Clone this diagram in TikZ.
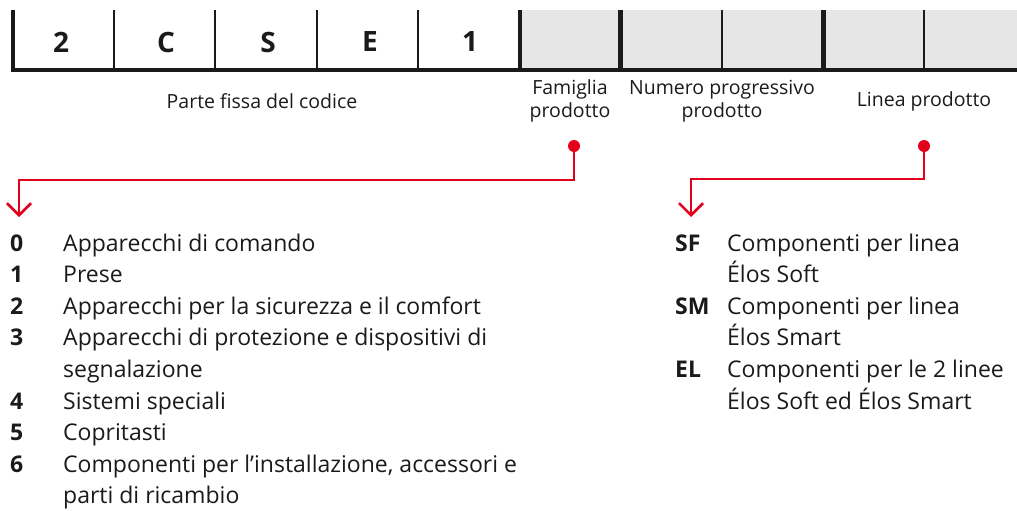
\documentclass[tikz,border=0pt]{standalone}
\usepackage{fontspec}
\setmainfont{Open Sans}
\usetikzlibrary{arrows.meta}
\definecolor{abbred}{HTML}{E2001A}
\definecolor{cellgray}{HTML}{E6E6E6}
\definecolor{ink}{HTML}{1A1A1A}

\begin{document}
\begin{tikzpicture}[x=1pt,y=-1pt,
  digit/.style={font=\fontsize{28}{28}\selectfont\bfseries,text=ink},
  caption/.style={font=\fontsize{19.5}{23}\selectfont,text=ink,align=center},
  item/.style={font=\fontsize{23}{32}\selectfont,text=ink,anchor=base west,inner sep=0pt},
  key/.style={item,font=\fontsize{23}{32}\selectfont\bfseries},
  thin/.style={ink,line width=1.2pt},
  thick/.style={ink,line width=4.5pt},
  dot/.style={circle,fill=abbred,inner sep=0pt,minimum size=12pt},
  redline/.style={abbred,line width=2.6pt,-{Straight Barb[length=12pt,width=24pt]}}]
\useasboundingbox (0,0) rectangle (1017,511);

% code bar
\fill[cellgray] (520,10) rectangle (1017,69);
\foreach \x in {114,215,317,418,722,924}
  \draw[thin] (\x,10) -- (\x,72);
\foreach \x in {13,520,620.5,823.5}
  \draw[thick] (\x,10) -- (\x,72);
\draw[thick] (11,70) -- (1017,70);
\foreach \c/\x in {2/61,C/166,S/268,E/370,1/470}
  \node[digit] (d\c) at (\x,42) {\c};

% captions
\node[caption] (fixed) at (262,101) {Parte fissa del codice};
\node[caption] (family) at (570,101) {Famiglia\\prodotto};
\node[caption] (number) at (722,101) {Numero progressivo\\prodotto};
\node[caption] (line) at (924,101) {Linea prodotto};

% red pointers
\node[dot] (famdot) at (574,146) {};
\node[dot] (linedot) at (924,146) {};
\coordinate (famtip) at (19,217);
\coordinate (linetip) at (691,217);
\draw[redline] (famdot.center) -- ++(0,34) -| (famtip);
\draw[redline] (linedot.center) -- ++(0,33) -| (linetip);

% product families
\foreach \row/\key/\txt in {0/0/{Apparecchi di comando},1/1/Prese,
    2/2/{Apparecchi per la sicurezza e il comfort},
    3/3/{Apparecchi di protezione e dispositivi di},4//segnalazione,
    5/4/{Sistemi speciali},6/5/Copritasti,
    7/6/{Componenti per l’installazione, accessori e},8//{parti di ricambio}}
{
  \node[key] (fk\row) at (10,251+31.6*\row) {\key};
  \node[item] (ft\row) at (63,251+31.6*\row) {\txt};
}

% product lines
\foreach \row/\key/\txt in {0/SF/{Componenti per linea},1//{Élos Soft},
    2/SM/{Componenti per linea},3//{Élos Smart},
    4/EL/{Componenti per le 2 linee},5//{Élos Soft ed Élos Smart}}
{
  \node[key] (lk\row) at (675,251+31.6*\row) {\key};
  \node[item] (lt\row) at (727,251+31.6*\row) {\txt};
}
\end{tikzpicture}
\end{document}
